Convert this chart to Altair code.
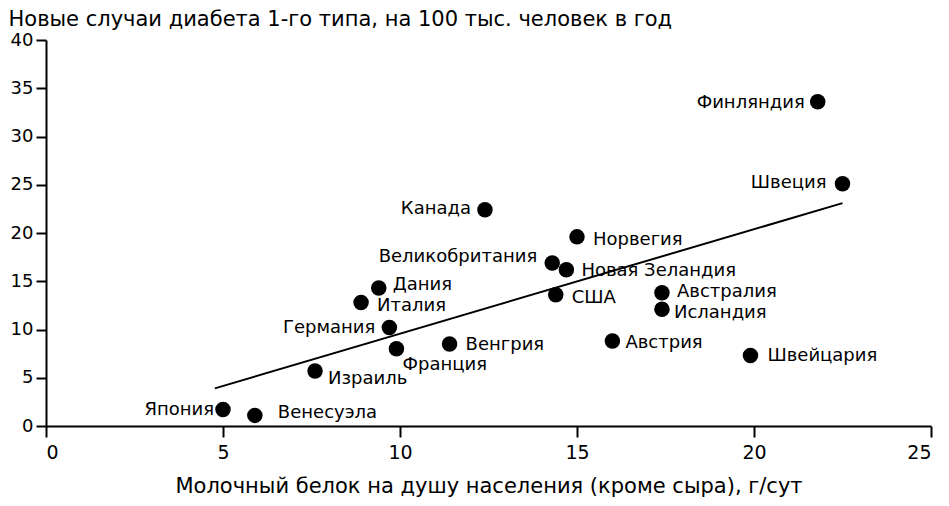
import altair as alt
import pandas as pd

# ---- data ----
countries = ["Япония", "Венесуэла", "Израиль", "Франция", "Германия", "Италия",
             "Дания", "Венгрия", "Канада", "Великобритания", "Новая Зеландия",
             "США", "Норвегия", "Австрия", "Австралия", "Исландия",
             "Швейцария", "Финляндия", "Швеция"]
milk_protein = [5.0, 5.9, 7.6, 9.9, 9.7, 8.9, 9.4, 11.4, 12.4, 14.3, 14.7,
                14.4, 15.0, 16.0, 17.4, 17.4, 19.9, 21.8, 22.5]
diabetes_rate = [1.7, 1.1, 5.7, 8.0, 10.2, 12.8, 14.3, 8.5, 22.4, 16.9, 16.2,
                 13.6, 19.6, 8.8, 13.8, 12.1, 7.3, 33.6, 25.1]
trend_x = [4.77, 22.5]
trend_y = [3.9, 23.1]
x_ticks = [0, 5, 10, 15, 20, 25]
y_ticks = [0, 5, 10, 15, 20, 25, 30, 35, 40]

y_title = "Новые случаи диабета 1-го типа, на 100 тыс. человек в год"
x_title = "Молочный белок на душу населения (кроме сыра), г/сут"

# ---- label placement (style only): align, dx, dy ----
label_style = {
    "Япония": ("right", -9, 0),
    "Венесуэла": ("left", 23, -2),
    "Израиль": ("left", 13, 8),
    "Франция": ("left", 6, 16),
    "Германия": ("right", -14, 0),
    "Италия": ("left", 16, 4),
    "Дания": ("left", 14, -3),
    "Венгрия": ("left", 16, 1),
    "Канада": ("right", -14, -1),
    "Великобритания": ("right", -15, -6),
    "Новая Зеландия": ("left", 15, 1),
    "США": ("left", 16, 3),
    "Норвегия": ("left", 16, 3),
    "Австрия": ("left", 13, 2),
    "Австралия": ("left", 15, -1),
    "Исландия": ("left", 12, 4),
    "Швейцария": ("left", 17, 0),
    "Финляндия": ("right", -13, 1),
    "Швеция": ("right", -16, -1),
}

FONT = "DejaVu Sans"

df = pd.DataFrame({"country": countries, "x": milk_protein, "y": diabetes_rate})
trend = pd.DataFrame({"x": trend_x, "y": trend_y})

x_scale = alt.Scale(domain=[0, 25], nice=False)
y_scale = alt.Scale(domain=[0, 40], nice=False)

x_axis = alt.Axis(values=x_ticks, title=x_title, grid=False,
                  domainColor="black", domainWidth=2, tickColor="black",
                  tickWidth=2, tickSize=11, labelColor="black",
                  labelFont=FONT, labelFontSize=19, labelPadding=6,
                  titleFont=FONT, titleFontSize=21, titleFontWeight="normal",
                  titleColor="black", titleY=66, titleBaseline="alphabetic")
y_axis = alt.Axis(values=y_ticks, title=y_title, grid=False,
                  domainColor="black", domainWidth=2, tickColor="black",
                  tickWidth=2, tickSize=10, labelColor="black",
                  labelFont=FONT, labelFontSize=18, labelPadding=3,
                  titleFont=FONT, titleFontSize=21, titleFontWeight="normal",
                  titleColor="black", titleAngle=0, titleAlign="left",
                  titleBaseline="alphabetic", titleX=-38, titleY=-15)

points = alt.Chart(df).mark_point(filled=True, shape="circle", size=240,
                                  color="black", opacity=1).encode(
    x=alt.X("x:Q", scale=x_scale, axis=x_axis),
    y=alt.Y("y:Q", scale=y_scale, axis=y_axis),
)

line = alt.Chart(trend).mark_line(color="black", strokeWidth=2).encode(
    x=alt.X("x:Q", scale=x_scale),
    y=alt.Y("y:Q", scale=y_scale),
)

labels = []
for c in countries:
    align, dx, dy = label_style[c]
    labels.append(
        alt.Chart(df).transform_filter(alt.datum.country == c).mark_text(
            align=align, baseline="middle", dx=dx, dy=dy, font=FONT,
            fontSize=18, color="black").encode(
            x=alt.X("x:Q", scale=x_scale),
            y=alt.Y("y:Q", scale=y_scale),
            text="country:N",
        )
    )

chart = alt.layer(line, points, *labels).properties(
    width=885, height=386,
    autosize=alt.AutoSizeParams(type="none"),
    padding={"left": 38, "top": 32, "right": 10, "bottom": 78},
    background="white",
).configure_view(stroke=None)

chart.save("out.html", embed_options={"renderer": "svg", "actions": False})
